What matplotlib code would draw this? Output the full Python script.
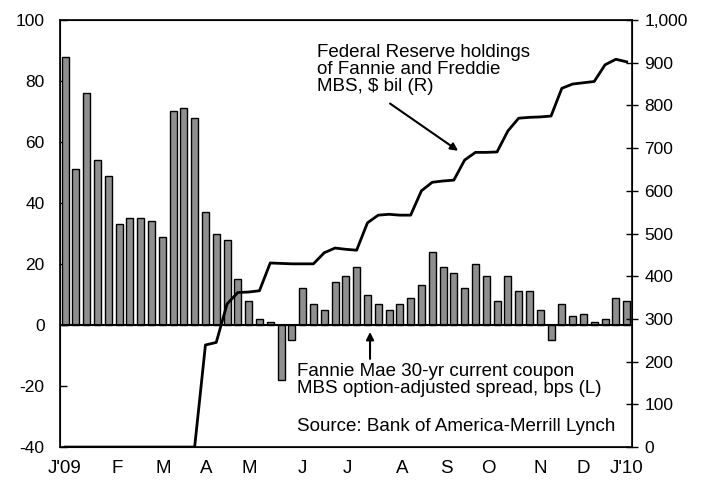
import matplotlib
matplotlib.use("Agg")
import matplotlib.pyplot as plt
import numpy as np

plt.rcParams['font.family'] = ['Liberation Sans', 'DejaVu Sans']

# Weekly option-adjusted spread, bps (left axis)
oas = [88, 51, 76, 54, 49, 33, 35, 35, 34, 29,
       70, 71, 68, 37, 30, 28, 15, 8, 2, 1,
       -18, -5, 12, 7, 5, 14, 16, 19, 10, 7,
       5, 7, 9, 13, 24, 19, 17, 12, 20, 16,
       8, 16, 11, 11, 5, -5, 7, 3, 3.5, 1,
       2, 9, 8]

# Fed holdings of Fannie and Freddie MBS, $ bil (right axis)
fed = [0, 0, 0, 0, 0, 0, 0, 0, 0, 0,
       0, 0, 0, 239, 245, 335, 362, 363, 366, 431,
       430, 429, 429, 429, 455, 466, 463, 461, 525, 543,
       545, 543, 543, 600, 620, 623, 625, 672, 690, 690,
       691, 740, 770, 772, 773, 775, 840, 850, 853, 856,
       895, 908, 902]

month_labels = ["J'09", "F", "M", "A", "M", "J", "J", "A", "S", "O", "N", "D", "J'10"]
month_pos = [0, 4.8, 9.1, 13.1, 17.1, 22, 26.1, 31.2, 35.3, 39.2, 44, 48, 52]

left_ticks = [-40, -20, 0, 20, 40, 60, 80, 100]
right_ticks = [0, 100, 200, 300, 400, 500, 600, 700, 800, 900, 1000]
right_labels = ["0", "100", "200", "300", "400", "500", "600", "700", "800", "900", "1,000"]

fig = plt.figure(figsize=(7.08, 4.87), dpi=100)
ax = fig.add_axes([0.0847, 0.082, 0.808, 0.877])
x = np.arange(len(oas))

ax.bar(x, oas, width=0.65, color='#8f8f8f', edgecolor='black', linewidth=1.0, zorder=2)
ax.axhline(0, color='black', linewidth=1.5, zorder=3)
ax.set_ylim(-40, 100)
ax.set_xlim(-0.47, 52.5)
ax.set_yticks(left_ticks)
ax.set_yticklabels([str(t) for t in left_ticks], fontsize=12.5)
ax.tick_params(axis='y', direction='in', length=5, width=1, pad=11)
ax.set_xticks(month_pos)
ax.set_xticklabels(month_labels, fontsize=13.5)
ax.tick_params(axis='x', length=0, pad=9)
for s in ax.spines.values():
    s.set_linewidth(1.2)

ax2 = ax.twinx()
ax2.plot(x, fed, color='black', linewidth=2, zorder=4)
ax2.set_ylim(0, 1000)
ax2.set_yticks(right_ticks)
ax2.set_yticklabels(right_labels, fontsize=12.5)
ax2.tick_params(axis='y', direction='inout', length=8, width=1, pad=5)
ax2.set_xlim(-0.47, 52.5)

ax.text(0.449, 0.943, "Federal Reserve holdings\nof Fannie and Freddie\nMBS, $ bil (R)",
        transform=ax.transAxes, fontsize=13.5, va='top', ha='left', linespacing=1.0, zorder=5)
ax.annotate("", xy=(0.70, 0.69), xytext=(0.573, 0.808), xycoords='axes fraction',
            arrowprops=dict(arrowstyle='-|>', color='black', lw=1.5, mutation_scale=11))
ax.text(0.414, 0.198, "Fannie Mae 30-yr current coupon\nMBS option-adjusted spread, bps (L)",
        transform=ax.transAxes, fontsize=13.5, va='top', ha='left', linespacing=1.05, zorder=5)
ax.annotate("", xy=(0.542, 0.276), xytext=(0.542, 0.2), xycoords='axes fraction',
            arrowprops=dict(arrowstyle='-|>', color='black', lw=1.5, mutation_scale=11))
ax.text(0.414, 0.047, "Source: Bank of America-Merrill Lynch",
        transform=ax.transAxes, fontsize=13.5, va='center', ha='left', zorder=5)

fig.savefig("out.png", dpi=100)
